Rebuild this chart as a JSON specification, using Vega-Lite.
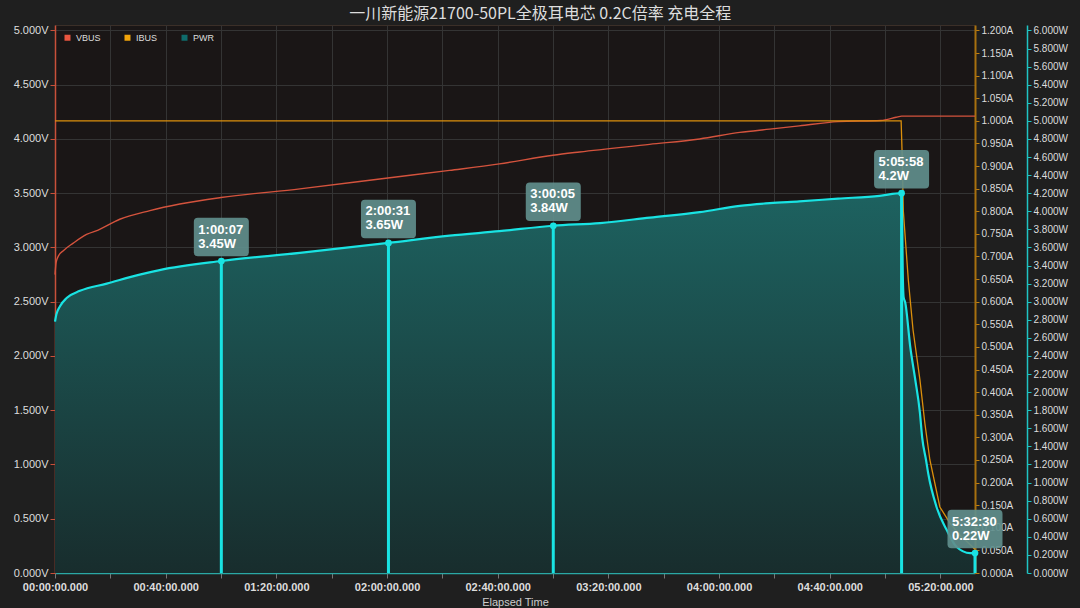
{
  "$schema": "https://vega.github.io/schema/vega-lite/v6.json",
  "width": 920,
  "height": 548,
  "autosize": {"type": "none"},
  "padding": {"left": 55, "top": 25, "right": 105, "bottom": 35},
  "background": "#1f1f1f",
  "title": {
    "text": "一川新能源21700-50PL全极耳电芯 0.2C倍率 充电全程",
    "anchor": "middle",
    "frame": "bounds",
    "font": "Noto Sans CJK SC",
    "fontSize": 16,
    "fontWeight": "normal",
    "color": "#dddddd",
    "offset": 2
  },
  "config": {
    "view": {"fill": "#1a1616", "stroke": "#3b2f28"},
    "axis": {"labelFont": "Liberation Sans", "titleFont": "Liberation Sans"},
    "text": {"font": "Liberation Sans"}
  },
  "datasets": {
    "vbus": [
      {"t": 0, "V": 2.75}, {"t": 0.4, "V": 2.86}, {"t": 1.2, "V": 2.92}, {"t": 3, "V": 2.97},
      {"t": 6.6, "V": 3.04}, {"t": 11.4, "V": 3.12}, {"t": 15.6, "V": 3.16}, {"t": 23.4, "V": 3.26},
      {"t": 34.3, "V": 3.34}, {"t": 45.1, "V": 3.40}, {"t": 60, "V": 3.46}, {"t": 88.5, "V": 3.54},
      {"t": 120.3, "V": 3.64}, {"t": 142.6, "V": 3.71}, {"t": 160.6, "V": 3.77}, {"t": 180, "V": 3.85},
      {"t": 189.6, "V": 3.88}, {"t": 214.9, "V": 3.95}, {"t": 233, "V": 4.0}, {"t": 247.5, "V": 4.06},
      {"t": 258.3, "V": 4.09}, {"t": 269, "V": 4.12}, {"t": 283, "V": 4.16}, {"t": 298.5, "V": 4.17},
      {"t": 304, "V": 4.2}, {"t": 306, "V": 4.21}, {"t": 332.5, "V": 4.21}
    ],
    "ibus": [
      {"t": 0, "I": 1.0}, {"t": 60, "I": 1.0}, {"t": 120, "I": 1.0}, {"t": 180, "I": 1.0},
      {"t": 240, "I": 1.0}, {"t": 305.8, "I": 1.0}, {"t": 306.2, "I": 0.92}, {"t": 306.6, "I": 0.8},
      {"t": 308.4, "I": 0.648}, {"t": 310.1, "I": 0.538}, {"t": 312.6, "I": 0.427}, {"t": 314.4, "I": 0.33},
      {"t": 316.2, "I": 0.25}, {"t": 319.8, "I": 0.146}, {"t": 323.4, "I": 0.111}, {"t": 327, "I": 0.084},
      {"t": 331.6, "I": 0.058}, {"t": 332.5, "I": 0.052}
    ],
    "pwr": [
      {"t": 0, "P": 2.78}, {"t": 0.5, "P": 2.86}, {"t": 1.8, "P": 2.95}, {"t": 4.2, "P": 3.04},
      {"t": 9, "P": 3.12}, {"t": 18.7, "P": 3.2}, {"t": 30.6, "P": 3.3}, {"t": 37.8, "P": 3.35},
      {"t": 60.1, "P": 3.45}, {"t": 88.5, "P": 3.54}, {"t": 120.5, "P": 3.65}, {"t": 142.6, "P": 3.73},
      {"t": 160.6, "P": 3.78}, {"t": 180.1, "P": 3.84}, {"t": 197, "P": 3.87}, {"t": 215, "P": 3.93},
      {"t": 233, "P": 3.99}, {"t": 247.5, "P": 4.06}, {"t": 258.3, "P": 4.09}, {"t": 269, "P": 4.11},
      {"t": 283, "P": 4.14}, {"t": 298, "P": 4.17}, {"t": 306, "P": 4.2}, {"t": 306.4, "P": 3.3},
      {"t": 306.7, "P": 3.05}, {"t": 307.3, "P": 2.99}, {"t": 309.1, "P": 2.5}, {"t": 310.9, "P": 2.14},
      {"t": 312.6, "P": 1.77}, {"t": 313.4, "P": 1.5}, {"t": 314.8, "P": 1.25}, {"t": 315.6, "P": 1.1},
      {"t": 318.6, "P": 0.73}, {"t": 322.2, "P": 0.48}, {"t": 325.8, "P": 0.29}, {"t": 330.7, "P": 0.22},
      {"t": 332.5, "P": 0.22}
    ],
    "marks": [
      {"t": 60.117, "P": 3.45, "time": "1:00:07", "lab": "3.45W"},
      {"t": 120.517, "P": 3.65, "time": "2:00:31", "lab": "3.65W"},
      {"t": 180.083, "P": 3.84, "time": "3:00:05", "lab": "3.84W"},
      {"t": 305.967, "P": 4.2, "time": "5:05:58", "lab": "4.2W"},
      {"t": 332.5, "P": 0.22, "time": "5:32:30", "lab": "0.22W"}
    ],
    "series": [{"s": "VBUS"}, {"s": "IBUS"}, {"s": "PWR"}]
  },
  "encoding": {
    "x": {
      "field": "t",
      "type": "quantitative",
      "scale": {"domain": [0, 332.5], "nice": false, "zero": false},
      "axis": {
        "values": [0, 20, 40, 60, 80, 100, 120, 140, 160, 180, 200, 220, 240, 260, 280, 300, 320],
        "labelExpr": "datum.value % 40 == 0 ? ('0' + floor(datum.value / 60) + ':' + (datum.value % 60 < 10 ? '0' : '') + (datum.value % 60) + ':00.000') : ''",
        "labelFlush": false,
        "title": "Elapsed Time",
        "titleFontSize": 11,
        "titleFontWeight": "normal",
        "titleColor": "#cccccc",
        "titlePadding": 4,
        "labelFontSize": 11,
        "labelFontWeight": "bold",
        "labelColor": "#dddddd",
        "labelPadding": 3,
        "labelOverlap": false,
        "tickColor": "#777777",
        "tickSize": 5,
        "domainColor": "#2aa8a5",
        "domainWidth": 1.5,
        "grid": true,
        "gridColor": "#343434",
        "gridWidth": 1
      }
    }
  },
  "layer": [
    {
      "data": {"name": "vbus"},
      "mark": {"type": "line", "stroke": "#d4533d", "strokeWidth": 1.4, "interpolate": "monotone"},
      "encoding": {
        "y": {
          "field": "V",
          "type": "quantitative",
          "scale": {"domain": [0, 5.05], "nice": false},
          "axis": {
            "orient": "left",
            "title": null,
            "values": [0, 0.5, 1, 1.5, 2, 2.5, 3, 3.5, 4, 4.5, 5],
            "labelExpr": "format(datum.value, '.3f') + 'V'",
            "labelFontSize": 11,
            "labelColor": "#dddddd",
            "labelPadding": 2,
            "tickColor": "#c8503a",
            "tickSize": 5,
            "domainColor": "#c8503a",
            "domainWidth": 1.5,
            "grid": true,
            "gridColor": "#343434",
            "gridWidth": 1
          }
        }
      }
    },
    {
      "data": {"name": "ibus"},
      "mark": {"type": "line", "stroke": "#dc900c", "strokeWidth": 1.3},
      "encoding": {
        "y": {
          "field": "I",
          "type": "quantitative",
          "scale": {"domain": [0, 1.212], "nice": false},
          "axis": {
            "orient": "right",
            "title": null,
            "zindex": 0,
            "values": [0, 0.05, 0.1, 0.15, 0.2, 0.25, 0.3, 0.35, 0.4, 0.45, 0.5, 0.55, 0.6, 0.65, 0.7, 0.75, 0.8, 0.85, 0.9, 0.95, 1, 1.05, 1.1, 1.15, 1.2],
            "labelExpr": "format(datum.value, '.3f') + 'A'",
            "labelFontSize": 10,
            "labelColor": "#dddddd",
            "labelPadding": 2,
            "labelOverlap": false,
            "tickColor": "#c07e10",
            "tickSize": 4,
            "domainColor": "#a8700f",
            "domainWidth": 2,
            "grid": false
          }
        }
      }
    },
    {
      "data": {"name": "pwr"},
      "encoding": {
        "y": {
          "field": "P",
          "type": "quantitative",
          "scale": {"domain": [0, 6.06], "nice": false},
          "axis": {
            "orient": "right",
            "offset": 52,
            "title": null,
            "values": [0, 0.2, 0.4, 0.6, 0.8, 1, 1.2, 1.4, 1.6, 1.8, 2, 2.2, 2.4, 2.6, 2.8, 3, 3.2, 3.4, 3.6, 3.8, 4, 4.2, 4.4, 4.6, 4.8, 5, 5.2, 5.4, 5.6, 5.8, 6],
            "labelExpr": "format(datum.value, '.3f') + 'W'",
            "labelFontSize": 10,
            "labelColor": "#dddddd",
            "labelPadding": 2,
            "labelOverlap": false,
            "tickColor": "#1fc4c4",
            "tickSize": 4,
            "domainColor": "#1fc4c4",
            "domainWidth": 1.5,
            "grid": false
          }
        }
      },
      "layer": [
        {
          "mark": {
            "type": "area",
            "interpolate": "monotone",
            "fillOpacity": 1,
            "fill": {
              "gradient": "linear",
              "x1": 0, "y1": 0, "x2": 0, "y2": 1,
              "stops": [
                {"offset": 0, "color": "#1d6260"},
                {"offset": 1, "color": "#182d2d"}
              ]
            }
          }
        },
        {"mark": {"type": "line", "stroke": "#19e3e3", "strokeWidth": 2.2, "interpolate": "monotone"}},
        {
          "data": {"name": "marks"},
          "mark": {"type": "rule", "stroke": "#19e3e3", "strokeWidth": 3},
          "encoding": {"y2": {"datum": 0}}
        },
        {
          "data": {"name": "marks"},
          "mark": {"type": "circle", "size": 45, "color": "#19e3e3", "opacity": 1}
        },
        {
          "data": {"name": "marks"},
          "mark": {
            "type": "point",
            "shape": "M -0.855 -0.7 L 0.855 -0.7 Q 1 -0.7 1 -0.555 L 1 0.555 Q 1 0.7 0.855 0.7 L -0.855 0.7 Q -1 0.7 -1 0.555 L -1 -0.555 Q -1 -0.7 -0.855 -0.7 Z",
            "size": 3025,
            "filled": true,
            "color": "#5f8e8c",
            "opacity": 0.92,
            "strokeWidth": 0,
            "yOffset": -24
          }
        },
        {
          "data": {"name": "marks"},
          "mark": {"type": "text", "align": "left", "baseline": "middle", "dx": -23, "dy": -31.5, "fontSize": 13, "fontWeight": "bold", "color": "#ffffff"},
          "encoding": {"text": {"field": "time"}}
        },
        {
          "data": {"name": "marks"},
          "mark": {"type": "text", "align": "left", "baseline": "middle", "dx": -23, "dy": -17.5, "fontSize": 13, "fontWeight": "bold", "color": "#ffffff"},
          "encoding": {"text": {"field": "lab"}}
        }
      ]
    },
    {
      "data": {"name": "series"},
      "mark": {"type": "square", "filled": true},
      "encoding": {
        "color": {
          "field": "s",
          "type": "nominal",
          "scale": {"domain": ["VBUS", "IBUS", "PWR"], "range": ["#e8553f", "#f0a30a", "#0f6b6b"]},
          "legend": {
            "title": null,
            "orient": "top-left",
            "direction": "horizontal",
            "symbolType": "square",
            "symbolSize": 36,
            "symbolOpacity": 1,
            "labelFontSize": 9,
            "labelColor": "#dddddd",
            "labelFont": "Liberation Sans",
            "columnPadding": 22,
            "labelOffset": 4,
            "offset": 8,
            "padding": 0
          }
        }
      }
    }
  ],
  "resolve": {"scale": {"y": "independent"}}
}
